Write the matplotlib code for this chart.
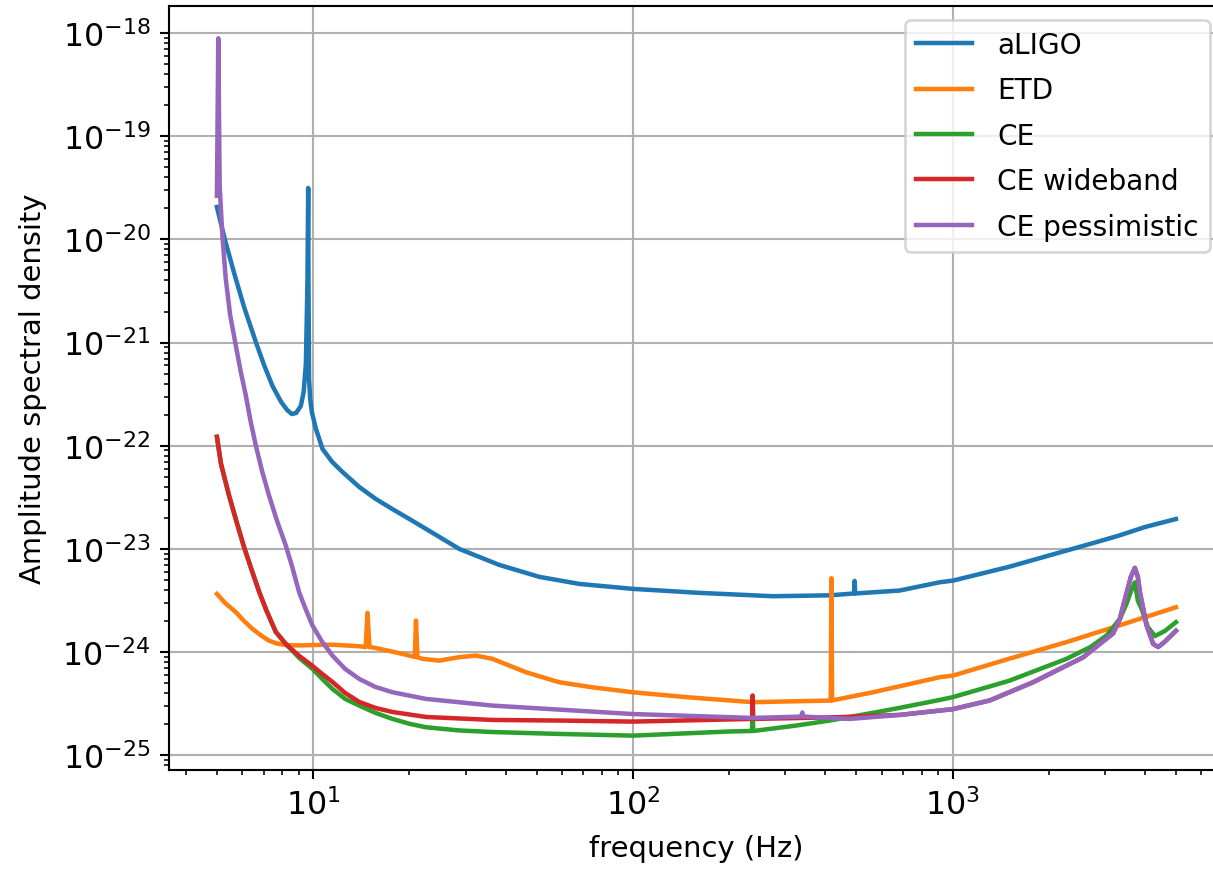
import matplotlib
matplotlib.use('Agg')
from matplotlib import pyplot as plt

# aLIGO
aligo_f = [5.0, 5.30, 5.66, 6.08, 6.62, 7.02, 7.46, 7.94, 8.29, 8.58, 8.85, 9.15, 9.34, 9.49,
           9.56, 9.60, 9.65, 9.67, 9.71, 9.79, 9.91, 10.2, 10.7, 11.47, 12.35, 13.93, 15.7,
           17.67, 20.0, 23.92, 28.65, 38.2, 51.0, 68.0, 100, 161.6, 274, 413, 492, 494, 496,
           683, 912, 1003, 1500, 2273, 2700, 3300, 4000, 5000]
aligo_asd = [2.06e-20, 9.86e-21, 4.72e-21, 2.21e-21, 1.01e-21, 6.07e-22, 3.8e-22, 2.66e-22,
             2.22e-22, 2.03e-22, 2.08e-22, 2.43e-22, 3.32e-22, 6.21e-22, 1.98e-21, 4.13e-21,
             3.15e-20, 4.13e-21, 4.44e-22, 2.84e-22, 2.11e-22, 1.46e-22, 9.3e-23, 6.97e-23,
             5.57e-23, 3.99e-23, 3.05e-23, 2.44e-23, 1.95e-23, 1.4e-23, 1.0e-23, 7.0e-24,
             5.36e-24, 4.58e-24, 4.1e-24, 3.75e-24, 3.48e-24, 3.55e-24, 3.7e-24, 4.9e-24,
             3.7e-24, 3.95e-24, 4.75e-24, 4.93e-24, 6.7e-24, 9.64e-24, 1.12e-23, 1.34e-23,
             1.63e-23, 1.95e-23]

# ETD
etd_f = [5.0, 5.30, 5.73, 6.08, 6.46, 6.87, 7.28, 7.71, 8.21, 9.04, 9.95, 11.49, 13.93, 14.6,
         14.79, 15.0, 15.34, 17.72, 20.46, 20.8, 20.97, 21.2, 21.99, 24.8, 28.65, 32.3, 36.4,
         41.1, 46.3, 58.9, 75, 100, 150, 237, 413, 416, 418, 420, 564, 912, 1003, 1500, 2273,
         3300, 5000]
etd_asd = [3.66e-24, 3.0e-24, 2.44e-24, 2.0e-24, 1.68e-24, 1.45e-24, 1.29e-24, 1.21e-24,
           1.17e-24, 1.16e-24, 1.17e-24, 1.18e-24, 1.14e-24, 1.12e-24, 2.4e-24, 1.12e-24,
           1.11e-24, 1.01e-24, 9.1e-25, 9.0e-25, 2.02e-24, 8.9e-25, 8.6e-25, 8.27e-25,
           8.93e-25, 9.25e-25, 8.6e-25, 7.4e-25, 6.38e-25, 5.1e-25, 4.55e-25, 4.08e-25,
           3.64e-25, 3.27e-25, 3.39e-25, 3.39e-25, 5.2e-24, 3.4e-25, 4.08e-25, 5.71e-25,
           5.92e-25, 8.6e-25, 1.25e-24, 1.8e-24, 2.72e-24]

# CE
ce_f = [5.0, 5.15, 5.46, 5.76, 6.08, 6.42, 6.78, 7.15, 7.64, 8.21, 9.04, 9.95, 10.67, 11.49,
        12.59, 13.93, 15.64, 17.72, 20.0, 22.5, 28.65, 36.4, 58.9, 100, 200, 236, 237, 238,
        320, 413, 564, 683, 912, 1003, 1500, 2273, 2700, 3034, 3338, 3500, 3620, 3719, 3800,
        3903, 4083, 4295, 4613, 5000]
ce_asd = [1.22e-22, 6.65e-23, 3.27e-23, 1.83e-23, 1.04e-23, 6.27e-24, 3.83e-24, 2.51e-24,
          1.57e-24, 1.2e-24, 8.8e-25, 6.87e-25, 5.5e-25, 4.4e-25, 3.52e-25, 3.03e-25,
          2.58e-25, 2.25e-25, 2.02e-25, 1.87e-25, 1.74e-25, 1.68e-25, 1.61e-25, 1.55e-25,
          1.7e-25, 1.72e-25, 3.0e-25, 1.72e-25, 1.93e-25, 2.17e-25, 2.58e-25, 2.88e-25,
          3.44e-25, 3.66e-25, 5.26e-25, 8.6e-25, 1.12e-24, 1.45e-24, 2.1e-24, 2.93e-24,
          3.92e-24, 4.75e-24, 3.15e-24, 2.63e-24, 1.75e-24, 1.43e-24, 1.6e-24, 1.95e-24]

# CE wideband
cewb_f = [5.0, 5.15, 5.46, 5.76, 6.08, 6.42, 6.78, 7.15, 7.64, 8.21, 9.04, 9.95, 10.67, 11.49,
          12.59, 13.93, 15.64, 17.67, 22.58, 36.4, 58.9, 100, 236, 237, 238, 443, 683, 1003,
          1308, 1786, 2166, 2563, 2890, 3182, 3338, 3504, 3613, 3719, 3800, 3856, 4047, 4243,
          4399, 4613, 5000]
cewb_asd = [1.22e-22, 6.65e-23, 3.27e-23, 1.83e-23, 1.04e-23, 6.27e-24, 3.83e-24, 2.51e-24,
            1.57e-24, 1.2e-24, 9.2e-25, 7.35e-25, 6.15e-25, 5.14e-25, 4.02e-25, 3.29e-25,
            2.88e-25, 2.63e-25, 2.35e-25, 2.2e-25, 2.17e-25, 2.12e-25, 2.25e-25, 3.8e-25,
            2.25e-25, 2.34e-25, 2.46e-25, 2.8e-25, 3.4e-25, 5.1e-25, 6.87e-25, 8.9e-25,
            1.2e-24, 1.52e-24, 2.1e-24, 3.75e-24, 5.36e-24, 6.55e-24, 5.36e-24, 3.8e-24,
            1.81e-24, 1.2e-24, 1.12e-24, 1.26e-24, 1.61e-24]

# CE pessimistic
cep_f = [5.0, 5.05, 5.10, 5.2, 5.33, 5.50, 5.73, 5.93, 6.16, 6.37, 6.62, 6.92, 7.28, 7.71,
         8.21, 8.6, 9.04, 9.47, 9.95, 10.67, 11.49, 12.59, 13.93, 15.64, 17.72, 22.5, 36.4,
         58.9, 100, 237, 336, 339, 342, 477, 683, 1003, 1308, 1786, 2166, 2563, 2890, 3182,
         3338, 3504, 3613, 3719, 3800, 3856, 4047, 4243, 4399, 4613, 5000]
cep_asd = [2.65e-20, 8.9e-19, 3.3e-20, 1.09e-20, 4.13e-21, 1.85e-21, 9.33e-22, 5.31e-22,
           3.05e-22, 1.74e-22, 1.0e-22, 5.7e-23, 3.28e-23, 1.87e-23, 1.08e-23, 6.7e-24,
           3.8e-24, 2.62e-24, 1.81e-24, 1.26e-24, 9.25e-25, 6.87e-25, 5.5e-25, 4.6e-25,
           4.08e-25, 3.52e-25, 3.03e-25, 2.77e-25, 2.51e-25, 2.3e-25, 2.37e-25, 2.6e-25,
           2.37e-25, 2.25e-25, 2.46e-25, 2.8e-25, 3.4e-25, 5.1e-25, 6.87e-25, 8.9e-25,
           1.2e-24, 1.52e-24, 2.1e-24, 3.75e-24, 5.36e-24, 6.55e-24, 5.36e-24, 3.8e-24,
           1.81e-24, 1.2e-24, 1.12e-24, 1.26e-24, 1.61e-24]

fig = plt.figure(figsize=(1213 / 190, 870 / 190), dpi=190)
ax = fig.add_axes([0.1393, 0.1138, 0.8697, 0.8782])

lw = 1.7
ax.loglog(aligo_f, aligo_asd, lw=lw, label='aLIGO')
ax.loglog(etd_f, etd_asd, lw=lw, label='ETD')
ax.loglog(ce_f, ce_asd, lw=lw, label='CE')
ax.loglog(cewb_f, cewb_asd, lw=lw, label='CE wideband')
ax.loglog(cep_f, cep_asd, lw=lw, label='CE pessimistic')

ax.set_xlim(3.54, 7063)
ax.set_ylim(7.2e-26, 1.83e-18)
ax.grid(True)
ax.tick_params(labelsize=12)
ax.legend(loc='upper right', fontsize=10.6, labelspacing=0.62, handletextpad=0.9)
ax.set_xlabel('frequency (Hz)', fontsize=11, labelpad=5)
ax.set_ylabel('Amplitude spectral density', fontsize=11, labelpad=6)

fig.savefig('out.png', dpi=190)
